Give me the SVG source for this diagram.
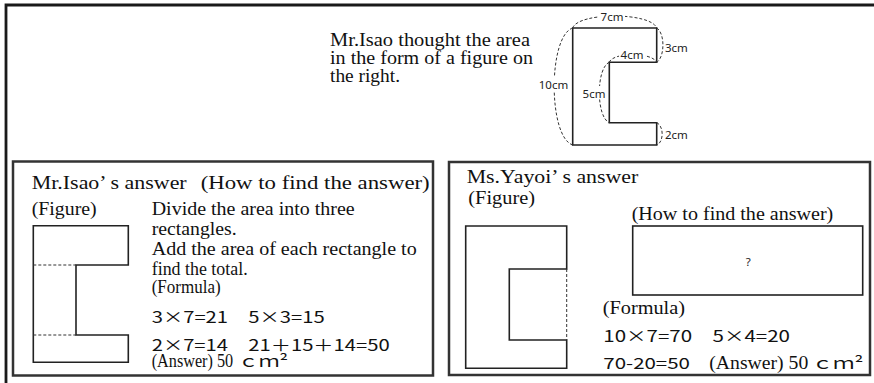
<svg xmlns="http://www.w3.org/2000/svg" width="874" height="383" viewBox="0 0 874 383">
<style>
.ser{font-family:"Liberation Serif","Times New Roman",serif;font-size:18px;fill:#111}
.san{font-family:"Noto Sans CJK JP","Noto Sans",sans-serif;font-size:15.5px;fill:#111}
.dim{font-family:"Noto Sans","DejaVu Sans",sans-serif;font-size:11.5px;fill:#222}
.box{fill:none;stroke:#333;stroke-width:2.5}
.fig{fill:none;stroke:#222;stroke-width:1.6}
.dash{fill:none;stroke:#333;stroke-width:1;stroke-dasharray:3 2}
.bg{fill:#fff}
</style>
<rect width="874" height="383" fill="#fff"/>
<g id="frame">
<path d="M6,383 V5 H874" fill="none" stroke="#1a1a1a" stroke-width="2.8"/>
</g>
<g id="intro">
<text class="ser" x="330" y="45.5" textLength="200" lengthAdjust="spacingAndGlyphs">Mr.Isao thought the area</text>
<text class="ser" x="330" y="63.5" textLength="203" lengthAdjust="spacingAndGlyphs">in the form of a figure on</text>
<text class="ser" x="330" y="81.5" textLength="70" lengthAdjust="spacingAndGlyphs">the right.</text>
</g>
<g id="shape">
<path class="fig" d="M572.7,28 H656.7 V62.3 H609.3 V122.7 H656.7 V145 H572.7 Z"/>
</g>
<g id="dimensions">
<path class="dash" d="M572.7,28 C578,12 651,12 656.7,28"/>
<path class="dash" d="M572.7,28 C548,36 548,137 572.7,145"/>
<path class="dash" d="M656.7,28 C665,33 665,57 656.7,62.3"/>
<path class="dash" d="M609.3,62.3 C613,52 652,52 656.7,62.3"/>
<path class="dash" d="M609.3,62.3 C596,68 596,117 609.3,122.7"/>
<path class="dash" d="M656.7,122.7 C664,126 664,142 656.7,145"/>
<rect class="bg" x="599" y="10" width="26" height="13"/>
<text class="dim" x="612" y="21" text-anchor="middle">7cm</text>
<rect class="bg" x="539" y="77" width="29" height="14"/>
<text class="dim" x="553.5" y="88.5" text-anchor="middle">10cm</text>
<text class="dim" x="665" y="51.5">3cm</text>
<rect class="bg" x="619" y="49" width="26" height="12"/>
<text class="dim" x="632" y="59" text-anchor="middle">4cm</text>
<rect class="bg" x="582" y="86" width="24" height="13"/>
<text class="dim" x="594" y="97.5" text-anchor="middle">5cm</text>
<text class="dim" x="665" y="138.5">2cm</text>
</g>
<g id="isao-answer">
<rect class="box" x="13" y="161.5" width="420" height="214"/>
<text class="ser" x="31.7" y="188.5" textLength="155" lengthAdjust="spacingAndGlyphs">Mr.Isao’ s answer</text>
<text class="ser" x="200.7" y="188.5" textLength="229" lengthAdjust="spacingAndGlyphs">(How to find the answer)</text>
<text class="ser" x="31.7" y="214.5" textLength="65" lengthAdjust="spacingAndGlyphs">(Figure)</text>
<text class="ser" x="151.7" y="214.5" textLength="203" lengthAdjust="spacingAndGlyphs">Divide the area into three</text>
<text class="ser" x="151.7" y="235" textLength="85" lengthAdjust="spacingAndGlyphs">rectangles.</text>
<text class="ser" x="151.7" y="255" textLength="265" lengthAdjust="spacingAndGlyphs">Add the area of each rectangle to</text>
<text class="ser" x="151.7" y="275" textLength="96" lengthAdjust="spacingAndGlyphs">find the total.</text>
<text class="ser" x="151.7" y="292.5" textLength="69" lengthAdjust="spacingAndGlyphs">(Formula)</text>
<text class="san" x="151.7" y="323" textLength="173" lengthAdjust="spacingAndGlyphs">3×7=21　5×3=15</text>
<text class="san" x="151.7" y="350.5" textLength="238" lengthAdjust="spacingAndGlyphs">2×7=14　21＋15＋14=50</text>
<text class="ser" x="151.7" y="366.5" textLength="81.5" lengthAdjust="spacingAndGlyphs">(Answer) 50</text>
<text class="san" x="238" y="366.5" textLength="50" lengthAdjust="spacingAndGlyphs">ｃｍ²</text>
<path class="fig" d="M33.3,225.7 H128.3 V265 H76 V335 H128.3 V362.3 H33.3 Z"/>
<path class="dash" d="M33.3,265 H76 M33.3,335 H76" stroke-dasharray="2 1.5"/>
</g>
<g id="yayoi-answer">
<rect class="box" x="449" y="162" width="421" height="213"/>
<text class="ser" x="466.7" y="183.3" textLength="171.6" lengthAdjust="spacingAndGlyphs">Ms.Yayoi’ s answer</text>
<text class="ser" x="468.3" y="203.5" textLength="66.7" lengthAdjust="spacingAndGlyphs">(Figure)</text>
<text class="ser" x="631.7" y="219.5" textLength="201.6" lengthAdjust="spacingAndGlyphs">(How to find the answer)</text>
<rect class="fig" x="632.7" y="226" width="230" height="69"/>
<text class="dim" x="748.3" y="265.5" text-anchor="middle" font-size="10">?</text>
<text class="ser" x="602.7" y="313.5" textLength="82.3" lengthAdjust="spacingAndGlyphs">(Formula)</text>
<text class="san" x="603.3" y="341.7" textLength="186.7" lengthAdjust="spacingAndGlyphs">10×7=70　5×4=20</text>
<text class="san" x="603.3" y="369" textLength="86.7" lengthAdjust="spacingAndGlyphs">70-20=50</text>
<text class="ser" x="709.3" y="369" textLength="99" lengthAdjust="spacingAndGlyphs">(Answer) 50</text>
<text class="san" x="811.7" y="369" textLength="51.6" lengthAdjust="spacingAndGlyphs">ｃｍ²</text>
<path class="fig" d="M566.7,269 V226 H465.7 V368.3 H566.7 V340 H509.3 V269 Z"/>
<path class="dash" d="M566.7,269 V340" stroke-dasharray="2 1.5"/>
</g>
</svg>
